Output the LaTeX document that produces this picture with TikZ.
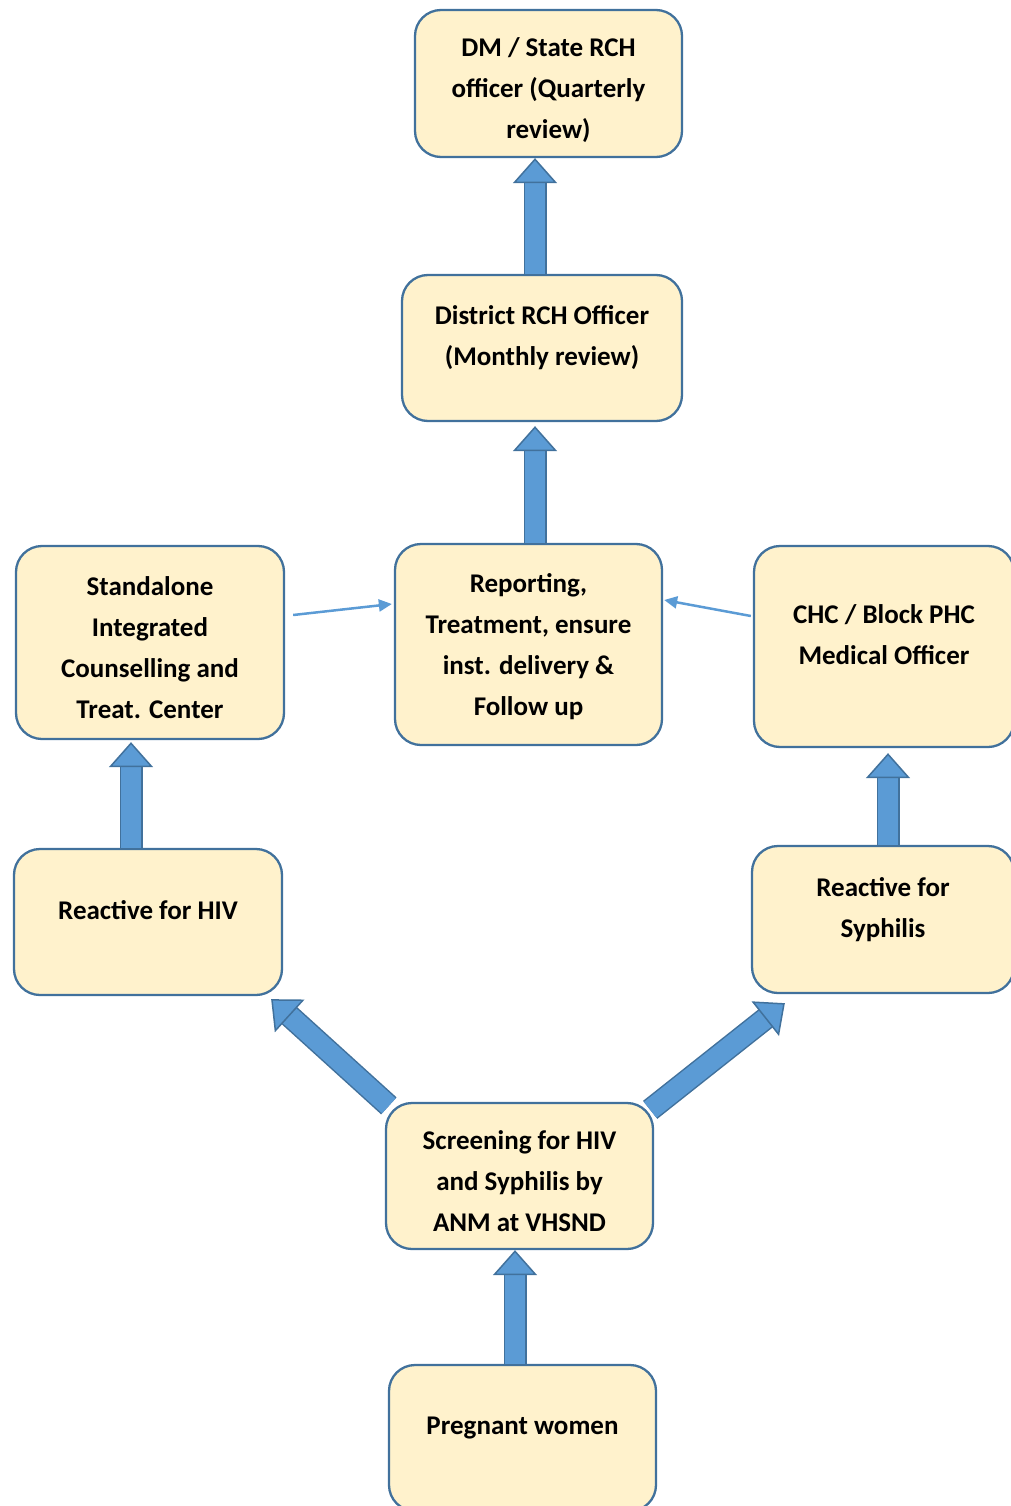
\documentclass[tikz,border=0pt]{standalone}
\usepackage{fontspec}
\setmainfont{Carlito}
\usetikzlibrary{arrows.meta}
\definecolor{boxfill}{HTML}{FFF2CC}
\definecolor{boxline}{HTML}{41719C}
\definecolor{arrowblue}{HTML}{5B9BD5}

\begin{document}
\begin{tikzpicture}[x=1pt, y=-1pt,
	block/.style={draw=boxline, fill=boxfill, line width=2.3pt, rounded corners=26pt,
		align=center, inner sep=0pt, font=\fontsize{27}{41}\selectfont\bfseries},
	lifted/.style={text depth=24pt},
	sunk/.style={text depth=0pt, text height=#1},
	bigarrow/.style={draw=arrowblue, line width=20pt,
		-{Triangle[length=25pt, width=44pt, line width=1.5pt, color=boxline, fill=arrowblue]},
		preaction={draw=boxline, line width=23pt, -, shorten >=22pt}},
	thinarrow/.style={draw=arrowblue, line width=2.5pt, -{Triangle[length=13pt, width=12pt]}}]
	\useasboundingbox (0,0) rectangle (1011,1506);
	
	% Nodes {dm, dist, rep, sa, chc, hiv, syp, scr, pw}
	\node [block, sunk=110pt, minimum width=267pt, minimum height=147pt] (dm)   at (548.5,83.5)  {DM / State RCH\\officer (Quarterly\\review)};
	\node [block, lifted, minimum width=280pt, minimum height=146pt]     (dist) at (542,348)     {District RCH Officer\\(Monthly review)};
	\node [block, sunk=141pt, minimum width=267pt, minimum height=201pt] (rep)  at (528.5,644.5) {Reporting,\\Treatment, ensure\\inst. delivery \&\\Follow up};
	\node [block, sunk=151pt, minimum width=268pt, minimum height=193pt] (sa)   at (150,642.5)   {Standalone\\Integrated\\Counselling and\\Treat. Center};
	\node [block, lifted, minimum width=260pt, minimum height=201pt]     (chc)  at (884,646.5)   {CHC / Block PHC\\Medical Officer};
	\node [block, lifted, minimum width=268pt, minimum height=146pt]     (hiv)  at (148,922)     {Reactive for HIV};
	\node [block, lifted, minimum width=262pt, minimum height=147pt]     (syp)  at (883,919.5)   {Reactive for\\Syphilis};
	\node [block, sunk=110pt, minimum width=267pt, minimum height=146pt] (scr)  at (519.5,1176)  {Screening for HIV\\and Syphilis by\\ANM at VHSND};
	\node [block, lifted, minimum width=267pt, minimum height=146pt]     (pw)   at (522.5,1438)  {Pregnant women};
	
	% Paths
	\draw [bigarrow] ([xshift=-7pt]dist.north) -- ([xshift=-7pt]dist.north |- dm.south);
	\draw [bigarrow] ([xshift=6.5pt]rep.north) -- ([xshift=6.5pt,yshift=-4pt]rep.north |- dist.south);
	\draw [bigarrow] ([xshift=-17pt]hiv.north) -- ([xshift=-17pt,yshift=-2pt]hiv.north |- sa.south);
	\draw [bigarrow] ([xshift=5pt]syp.north) -- ([xshift=5pt,yshift=-5pt]syp.north |- chc.south);
	\draw [bigarrow] ([xshift=-7.5pt]pw.north) -- ([xshift=-7.5pt]pw.north |- scr.south);
	\draw [bigarrow] ([shift={(4pt,-4pt)}]scr.north west) -- ([shift={(-12pt,-3pt)}]hiv.south east);
	\draw [bigarrow] ([shift={(-4pt,-8pt)}]scr.north east) -- ([shift={(34pt,-9pt)}]syp.south west);
	
	\draw [thinarrow] ([shift={(8pt,27.5pt)}]sa.east) -- ([shift={(-2pt,40.5pt)}]rep.west);
	\draw [thinarrow] ([shift={(-2pt,30.5pt)}]chc.west) -- ([shift={(1pt,44.5pt)}]rep.east);
\end{tikzpicture}
\end{document}
